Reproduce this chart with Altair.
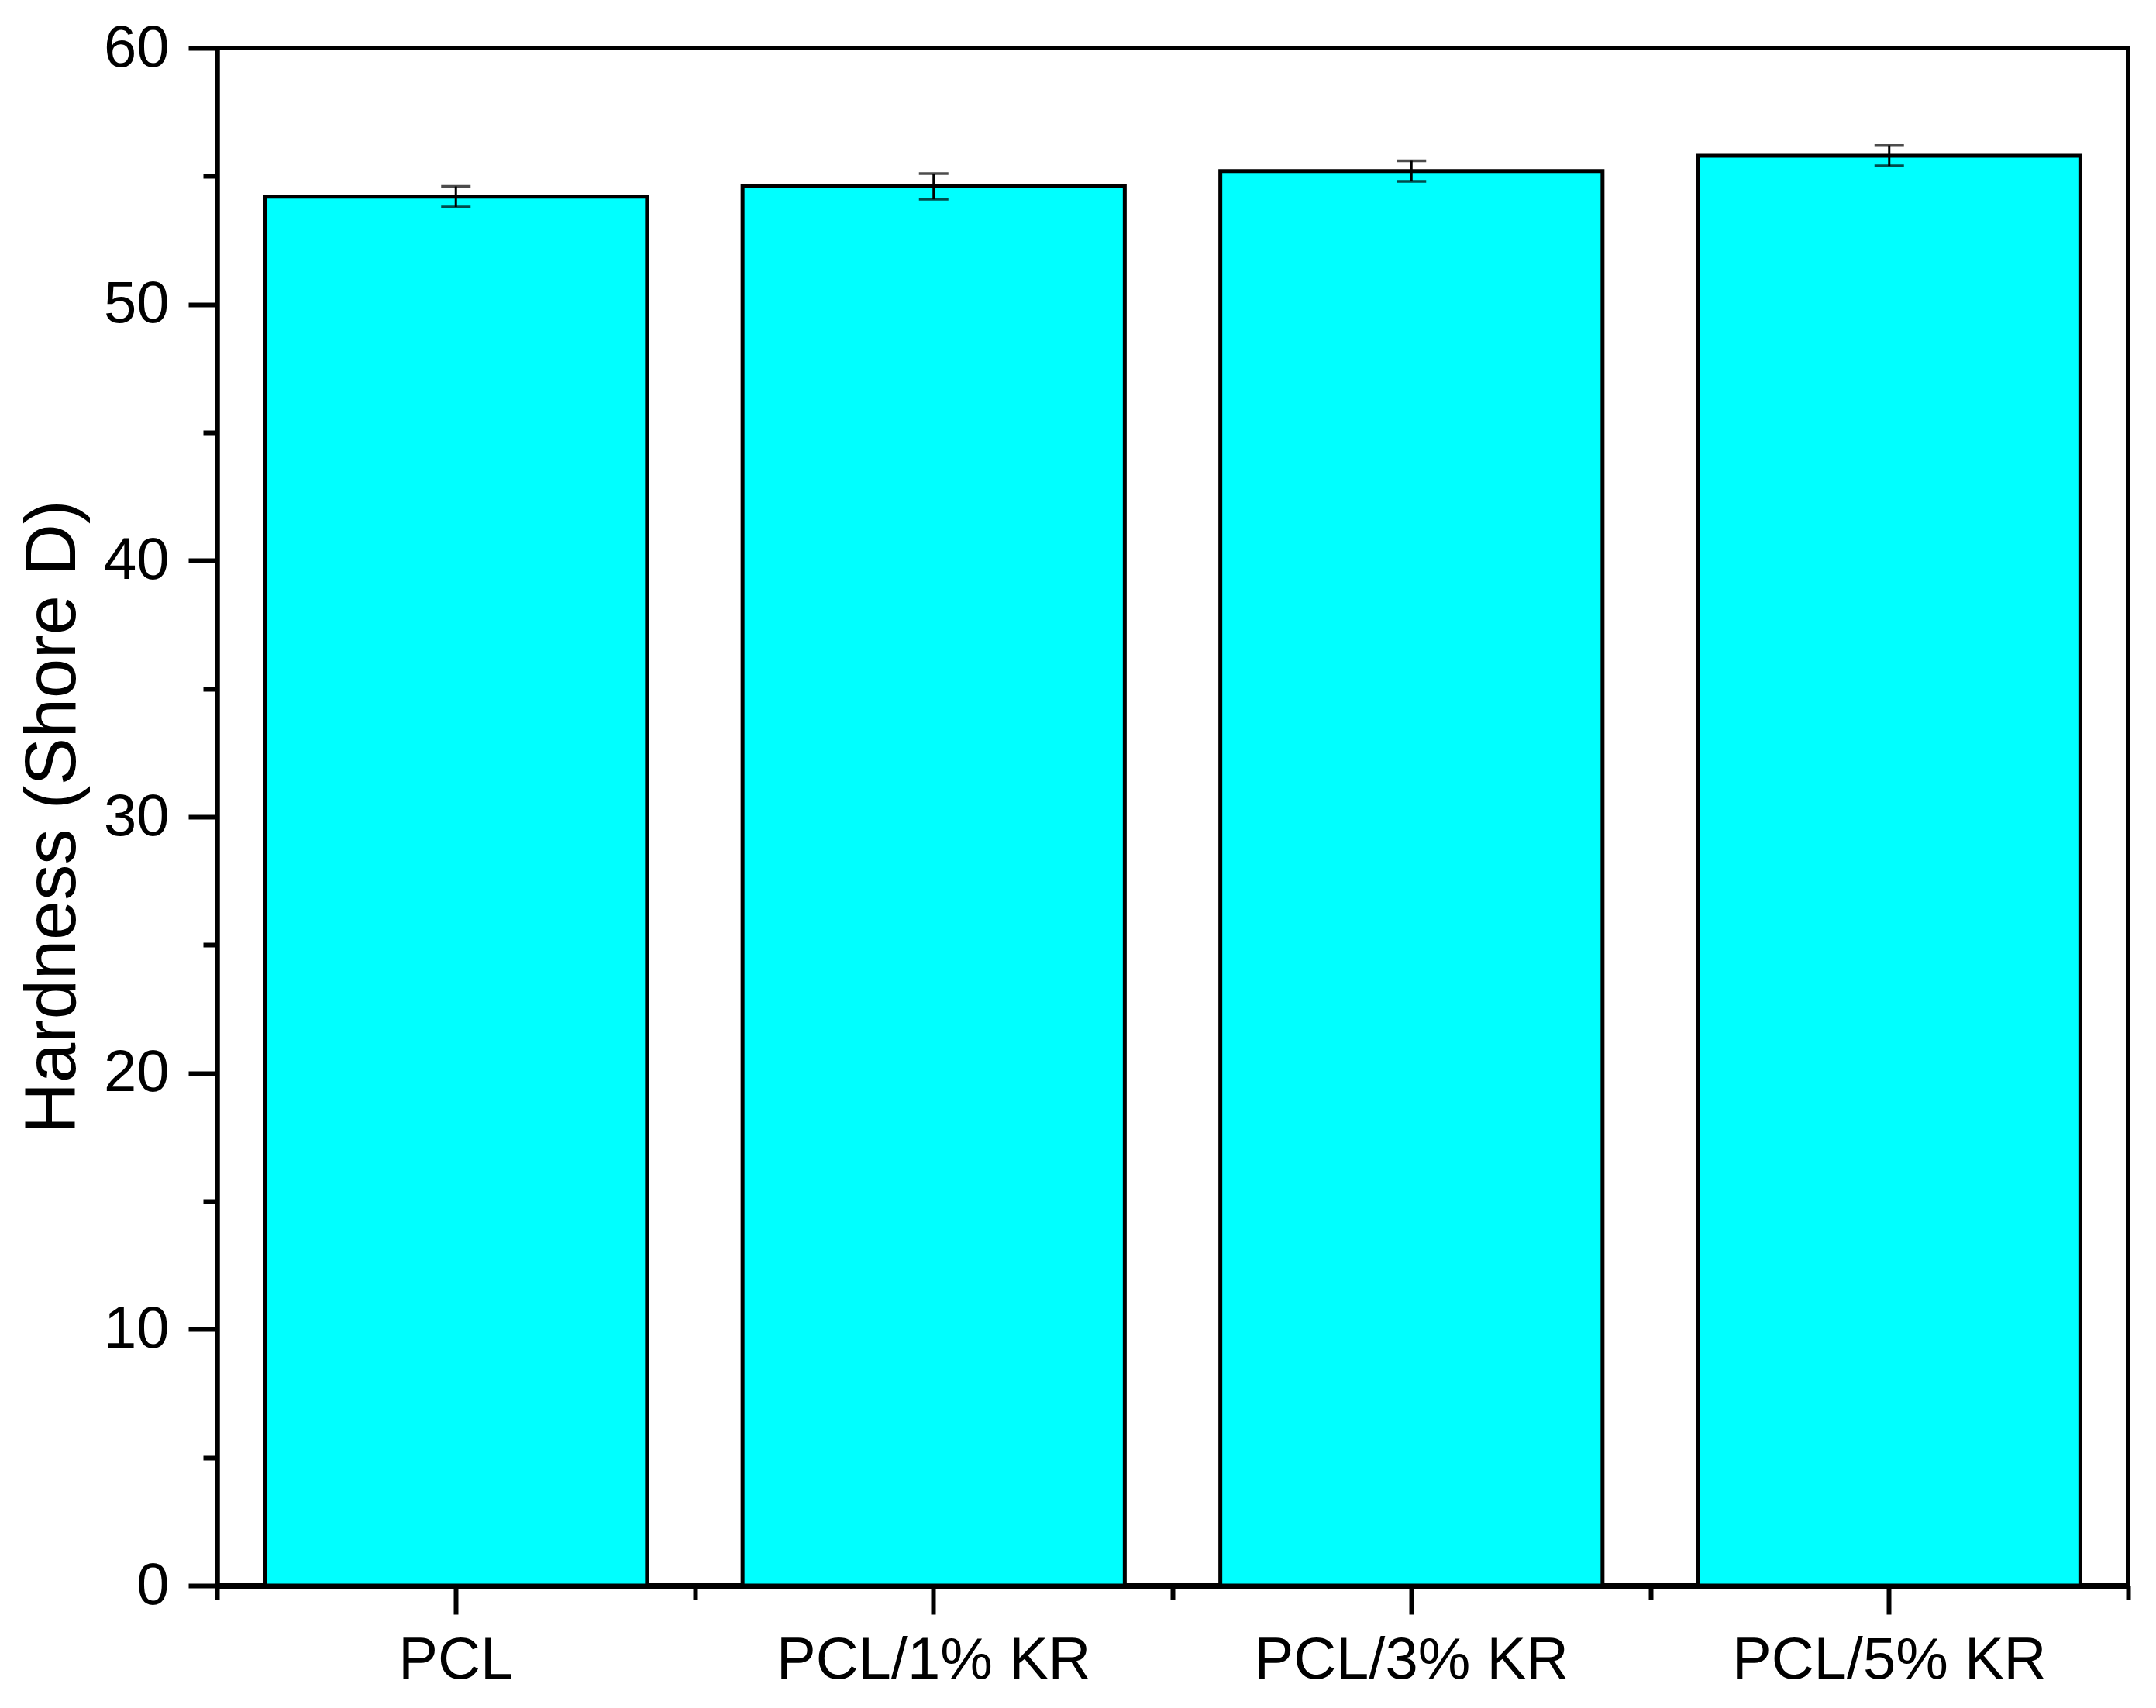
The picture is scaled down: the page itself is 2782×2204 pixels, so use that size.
import altair as alt
import pandas as pd

categories = ["PCL", "PCL/1% KR", "PCL/3% KR", "PCL/5% KR"]
hardness = [54.2, 54.6, 55.2, 55.8]
errors = [0.4, 0.5, 0.4, 0.4]
y_major = [0, 10, 20, 30, 40, 50, 60]
y_minor = [5, 15, 25, 35, 45, 55]
x_bounds = [0, 1, 2, 3, 4]

df = pd.DataFrame({"cat": categories, "val": hardness, "err": errors})
df["lo"] = df["val"] - df["err"]
df["hi"] = df["val"] + df["err"]

FONT = "Liberation Sans"
W, H = 2466, 1984

xscale = alt.Scale(domain=categories, paddingInner=0.2, paddingOuter=0.1)
yscale = alt.Scale(domain=[0, 60], nice=False, zero=True)

xaxis = alt.Axis(title=None, labelFont=FONT, labelFontSize=76, labelColor="black",
                 labelPadding=22, labelLimit=0, tickSize=37, tickWidth=6, tickColor="black",
                 domainColor="black", domainWidth=7, labelAngle=0, grid=False)
yaxis = alt.Axis(title="Hardness (Shore D)", values=y_major, titleFont=FONT, titleFontSize=92,
                 titleFontWeight="normal", titleColor="black", titleX=-184, titleY=H / 2,
                 titleBaseline="alphabetic", titleAlign="center", titleAngle=270,
                 labelFont=FONT, labelFontSize=76, labelColor="black", labelPadding=25,
                 tickSize=37, tickWidth=6, tickColor="black", domainColor="black",
                 domainWidth=6.5, grid=False)

base = alt.Chart(df)
bars = base.mark_bar(color="#00FFFF", stroke="black", strokeWidth=5).encode(
    x=alt.X("cat:N", scale=xscale, axis=xaxis, sort=categories),
    y=alt.Y("val:Q", scale=yscale, axis=yaxis),
)
stem = base.mark_rule(color="black", strokeWidth=3).encode(
    x=alt.X("cat:N", scale=xscale, sort=categories),
    y=alt.Y("lo:Q", scale=yscale),
    y2="hi:Q",
)
cap_hi = base.mark_tick(color="black", thickness=3.5, size=38, orient="horizontal").encode(
    x=alt.X("cat:N", scale=xscale, sort=categories),
    y=alt.Y("hi:Q", scale=yscale),
)
cap_lo = base.mark_tick(color="black", thickness=3.5, size=38, orient="horizontal").encode(
    x=alt.X("cat:N", scale=xscale, sort=categories),
    y=alt.Y("lo:Q", scale=yscale),
)
main = alt.layer(bars, stem, cap_hi, cap_lo)

xminor = alt.Chart(pd.DataFrame({"b": x_bounds})).mark_point(opacity=0).encode(
    x=alt.X("b:Q", scale=alt.Scale(domain=[0, 4], nice=False, zero=False),
            axis=alt.Axis(orient="bottom", values=x_bounds, labels=False, domain=False,
                          grid=False, title=None, tickSize=18, tickWidth=6, tickColor="black"))
)
yminor = alt.Chart(pd.DataFrame({"m": y_minor})).mark_point(opacity=0).encode(
    y=alt.Y("m:Q", scale=alt.Scale(domain=[0, 60], nice=False),
            axis=alt.Axis(orient="left", values=y_minor, labels=False, domain=False,
                          grid=False, title=None, tickSize=18, tickWidth=6, tickColor="black"))
)

chart = alt.layer(main, xminor, yminor).resolve_scale(
    x="independent", y="independent"
).properties(
    width=W, height=H,
    autosize=alt.AutoSizeParams(type="none"),
    padding={"left": 272, "top": 54, "right": 28, "bottom": 150},
    background="white",
).configure_view(
    stroke="black", strokeWidth=6
)

chart.save("out.html", embed_options={"renderer": "svg", "actions": False})
